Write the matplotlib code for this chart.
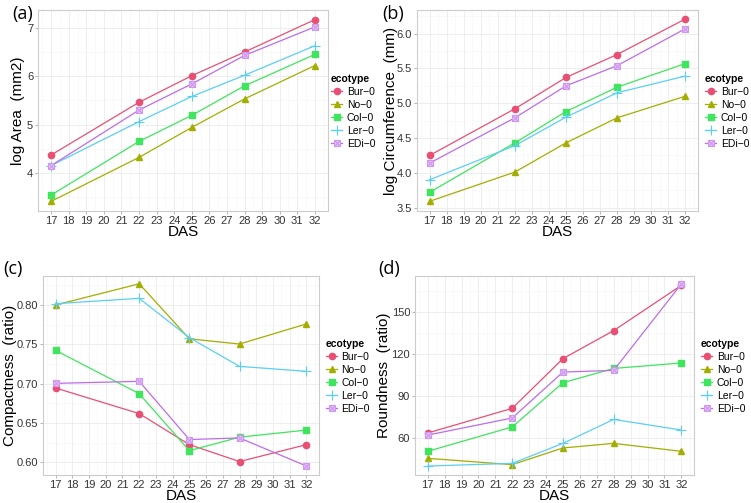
import matplotlib
matplotlib.use("Agg")
import matplotlib.pyplot as plt
from matplotlib.ticker import MultipleLocator
from matplotlib.legend_handler import HandlerTuple

plt.rcParams["font.family"] = ["Liberation Sans", "DejaVu Sans"]

das = [17, 22, 25, 28, 32]
ecotypes = ["Bur\u22120", "No\u22120", "Col\u22120", "Ler\u22120", "EDi\u22120"]

area = {
    "Bur": [4.37, 5.46, 6.01, 6.50, 7.17],
    "No": [3.41, 4.32, 4.94, 5.53, 6.22],
    "Col": [3.54, 4.65, 5.19, 5.80, 6.45],
    "Ler": [4.15, 5.06, 5.58, 6.02, 6.63],
    "EDi": [4.15, 5.30, 5.84, 6.43, 7.02],
}
circ = {
    "Bur": [4.25, 4.92, 5.37, 5.70, 6.21],
    "No": [3.59, 4.01, 4.43, 4.79, 5.10],
    "Col": [3.72, 4.43, 4.88, 5.23, 5.57],
    "Ler": [3.90, 4.39, 4.80, 5.15, 5.39],
    "EDi": [4.14, 4.79, 5.25, 5.54, 6.07],
}
compact = {
    "Bur": [0.6945, 0.662, 0.6225, 0.601, 0.6225],
    "No": [0.800, 0.827, 0.757, 0.7504, 0.776],
    "Col": [0.7424, 0.6873, 0.6148, 0.632, 0.641],
    "Ler": [0.8017, 0.8085, 0.7585, 0.722, 0.7157],
    "EDi": [0.7004, 0.703, 0.629, 0.631, 0.5953],
}
round_ = {
    "Bur": [63.6, 81.2, 116.7, 136.7, 169.0],
    "No": [45.5, 41.0, 52.9, 56.2, 50.5],
    "Col": [50.5, 67.9, 99.5, 109.7, 113.6],
    "Ler": [40.0, 41.9, 56.2, 73.3, 65.7],
    "EDi": [62.1, 74.3, 107.1, 108.3, 170.0],
}

keys = ["Bur", "No", "Col", "Ler", "EDi"]
colors = {"Bur": "#E94F73", "No": "#A3AE00", "Col": "#3FE55C",
          "Ler": "#5ACFF5", "EDi": "#BC6CEB"}
markers = {"Bur": "o", "No": "^", "Col": "s", "Ler": "+", "EDi": "s"}

fig = plt.figure(figsize=(7.51, 5.03), dpi=100)

panels = [
    # data, ylabel, letter, axes box (px), ylim, ystep, ylabel x, legend pos (px), letter pos (px)
    (area, "log Area  (mm2)", "(a)", [38, 10, 328, 211], (3.21, 7.37), 1, -0.045, (331, 74), (12, 14)),
    (circ, "log Circumference  (mm)", "(b)", [417, 10, 698, 211], (3.45, 6.34), 0.5, -0.068, (705, 74), (382, 14)),
    (compact, "Compactness  (ratio)", "(c)", [43, 276, 319, 475], (0.5839, 0.8369), 0.05, -0.095, (326, 339), (3, 269)),
    (round_, "Roundness  (ratio)", "(d)", [415, 276, 694, 475], (33.6, 175.7), 30, -0.085, (701, 339), (378, 269)),
]

W, H = 751.0, 503.0
for data, ylab, letter, (x0, y0, x1, y1), ylim, ystep, ylx, (lx, ly), (px, py) in panels:
    ax = fig.add_axes([x0 / W, 1 - y1 / H, (x1 - x0) / W, (y1 - y0) / H])
    handles = []
    for k in keys:
        c = colors[k]
        if k == "EDi":
            ln, = ax.plot(das, data[k], color=c, lw=0.9, marker="s", ms=4.5,
                          mfc="#E6C4F7", mec="#CF96F2", mew=0.8, zorder=3)
            xm, = ax.plot(das, data[k], ls="none", marker="x", ms=4,
                          mec="#CF96F2", mew=0.8, zorder=4)
            handles.append((ln, xm))
        elif k == "Ler":
            ln, = ax.plot(das, data[k], color=c, lw=0.9, marker="+", ms=6.5,
                          mew=0.8, zorder=3)
            handles.append(ln)
        else:
            ms = 5 if k == "No" else 4.5
            ln, = ax.plot(das, data[k], color=c, lw=0.9, marker=markers[k],
                          ms=ms, mec=c, zorder=3)
            handles.append(ln)

    ax.set_xlim(16.25, 32.75)
    ax.set_ylim(*ylim)
    ax.set_xticks(range(17, 33))
    ax.xaxis.set_minor_locator(MultipleLocator(0.5))
    ax.yaxis.set_major_locator(MultipleLocator(ystep))
    ax.yaxis.set_minor_locator(MultipleLocator(ystep / 2))
    if ystep == 0.05:
        ax.yaxis.set_major_formatter(matplotlib.ticker.FormatStrFormatter("%.2f"))
    elif ystep == 0.5:
        ax.yaxis.set_major_formatter(matplotlib.ticker.FormatStrFormatter("%.1f"))
    ax.grid(True, which="major", color="#EBEBEB", lw=0.6)
    ax.grid(True, which="minor", color="#F5F5F5", lw=0.4)
    ax.set_axisbelow(True)
    for s in ax.spines.values():
        s.set_color("#CCCCCC")
        s.set_linewidth(0.8)
    ax.tick_params(which="major", length=2.5, width=0.6, color="#AAAAAA",
                   labelsize=8, labelcolor="#333333", pad=1)
    ax.tick_params(which="minor", length=0)
    ax.set_xlabel("DAS", fontsize=11, labelpad=-0.8)
    ax.set_ylabel(ylab, fontsize=11)
    ax.yaxis.set_label_coords(ylx, 0.5)

    leg = ax.legend(handles, ecotypes, title="ecotype", loc="upper left",
                    bbox_to_anchor=(lx / W, 1 - ly / H), bbox_transform=fig.transFigure,
                    frameon=False, fontsize=7.5, title_fontsize=7.5,
                    handlelength=1.1, handletextpad=0.4, labelspacing=0.28,
                    borderpad=0, borderaxespad=0, alignment="left",
                    handler_map={tuple: HandlerTuple(ndivide=1)})
    leg.get_title().set_fontweight("bold")

    fig.text(px / W, 1 - py / H, letter, fontsize=13, family=["Open Sans", "DejaVu Sans"],
             ha="left", va="center")

fig.savefig("out.png", dpi=100)
